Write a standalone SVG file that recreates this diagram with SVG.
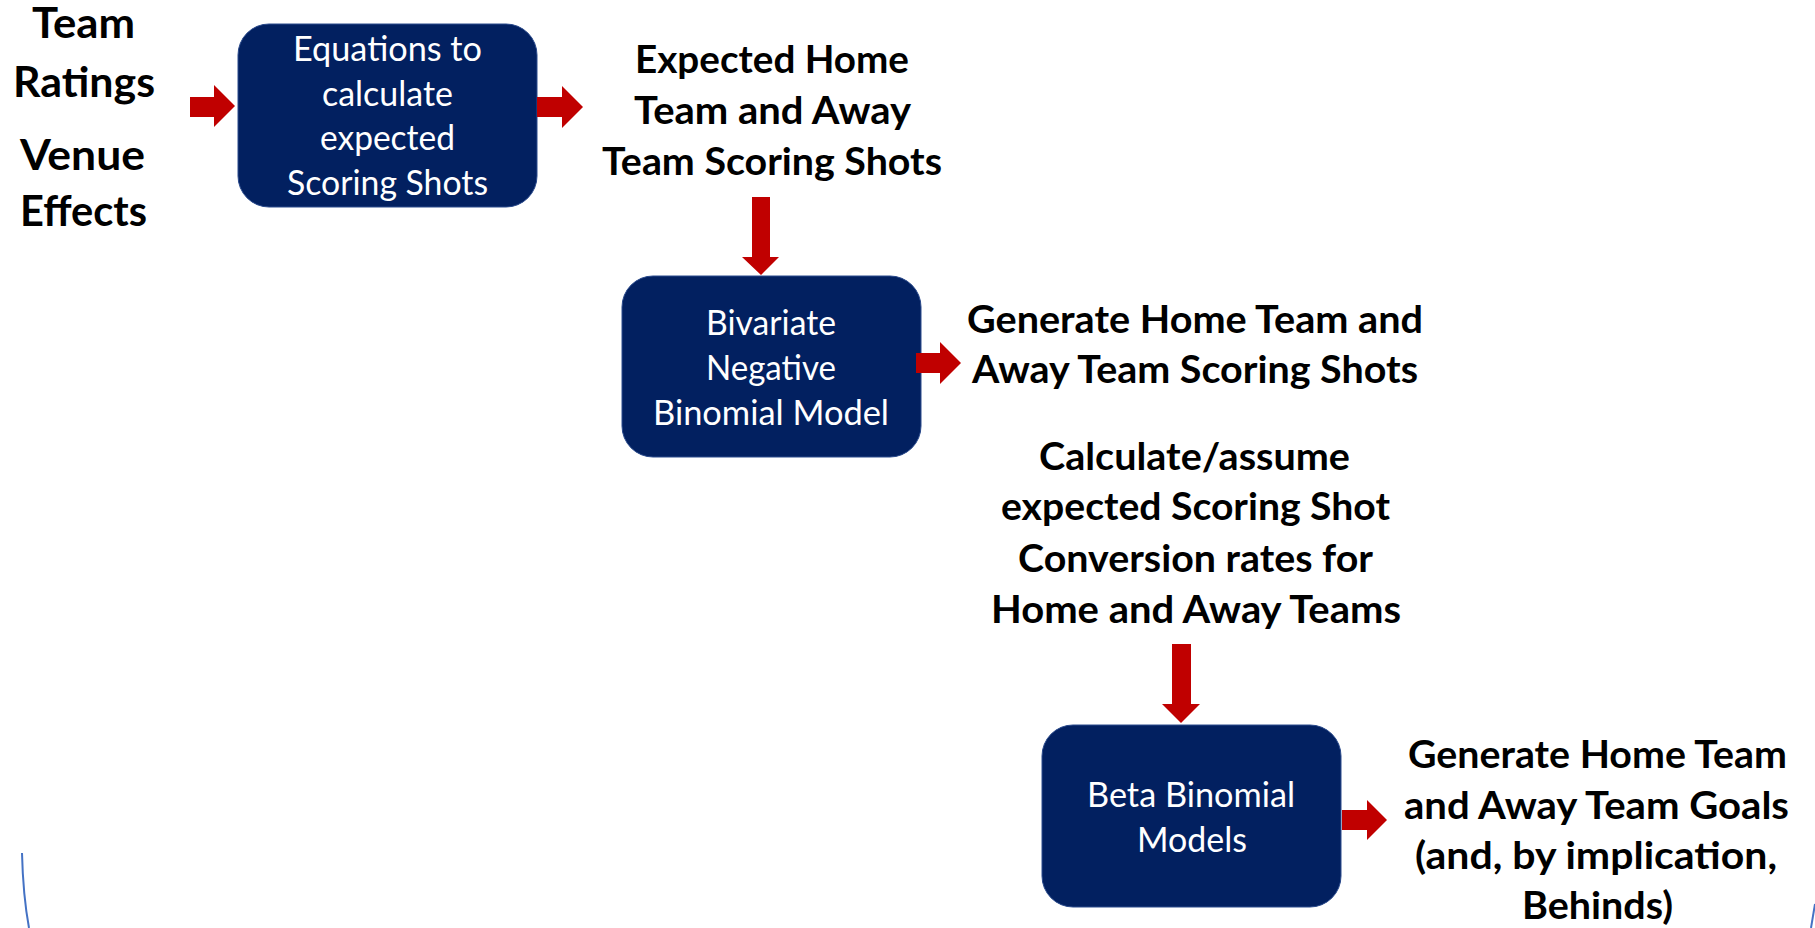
<svg xmlns="http://www.w3.org/2000/svg" width="1815" height="928" viewBox="0 0 1815 928">
  <style>
    .box { fill: #022060; stroke: #2a4a8c; stroke-width: 1; }
    .box-text { font-family: Lato, "Liberation Sans", sans-serif; font-size: 34px; fill: #ffffff; }
    .label { font-family: Lato, "Liberation Sans", sans-serif; font-weight: bold; font-size: 38.5px; fill: #000000; }
    .label-lg { font-family: Lato, "Liberation Sans", sans-serif; font-weight: bold; font-size: 42.5px; fill: #000000; }
    .arrow { fill: #c00000; }
    .edge { fill: none; stroke: #4472c4; stroke-width: 2; }
  </style>

  <rect width="1815" height="928" fill="#ffffff"/>

  <!-- inputs -->
  <g id="inputs">
    <text class="label-lg" x="32" y="38" textLength="103" lengthAdjust="spacingAndGlyphs">Team</text>
    <text class="label-lg" x="13" y="97" textLength="142" lengthAdjust="spacingAndGlyphs">Ratings</text>
    <text class="label-lg" x="20" y="170" textLength="125" lengthAdjust="spacingAndGlyphs">Venue</text>
    <text class="label-lg" x="20" y="226" textLength="127" lengthAdjust="spacingAndGlyphs">Effects</text>
  </g>

  <!-- step 1: equations -->
  <g id="equations">
    <rect class="box" x="238" y="24" width="299" height="183" rx="31" ry="31"/>
    <text class="box-text" x="293" y="61" textLength="189" lengthAdjust="spacingAndGlyphs">Equations to</text>
    <text class="box-text" x="322" y="106" textLength="131" lengthAdjust="spacingAndGlyphs">calculate</text>
    <text class="box-text" x="320" y="150" textLength="135" lengthAdjust="spacingAndGlyphs">expected</text>
    <text class="box-text" x="287" y="195" textLength="201" lengthAdjust="spacingAndGlyphs">Scoring Shots</text>
  </g>

  <g id="expected-shots">
    <text class="label" x="635" y="73" textLength="274" lengthAdjust="spacingAndGlyphs">Expected Home</text>
    <text class="label" x="634" y="124" textLength="277" lengthAdjust="spacingAndGlyphs">Team and Away</text>
    <text class="label" x="602" y="175" textLength="340" lengthAdjust="spacingAndGlyphs">Team Scoring Shots</text>
  </g>

  <!-- step 2: bivariate model -->
  <g id="bivariate">
    <rect class="box" x="622" y="276" width="299" height="181" rx="31" ry="31"/>
    <text class="box-text" x="706" y="335" textLength="130" lengthAdjust="spacingAndGlyphs">Bivariate</text>
    <text class="box-text" x="706" y="380" textLength="130" lengthAdjust="spacingAndGlyphs">Negative</text>
    <text class="box-text" x="653" y="425" textLength="236" lengthAdjust="spacingAndGlyphs">Binomial Model</text>
  </g>

  <g id="generated-shots">
    <text class="label" x="967" y="333" textLength="456" lengthAdjust="spacingAndGlyphs">Generate Home Team and</text>
    <text class="label" x="972" y="383" textLength="446" lengthAdjust="spacingAndGlyphs">Away Team Scoring Shots</text>
  </g>

  <g id="conversion-rates">
    <text class="label" x="1039" y="470" textLength="311" lengthAdjust="spacingAndGlyphs">Calculate/assume</text>
    <text class="label" x="1001" y="520" textLength="389" lengthAdjust="spacingAndGlyphs">expected Scoring Shot</text>
    <text class="label" x="1018" y="572" textLength="355" lengthAdjust="spacingAndGlyphs">Conversion rates for</text>
    <text class="label" x="991" y="623" textLength="410" lengthAdjust="spacingAndGlyphs">Home and Away Teams</text>
  </g>

  <!-- step 3: beta binomial -->
  <g id="beta-binomial">
    <rect class="box" x="1042" y="725" width="299" height="182" rx="31" ry="31"/>
    <text class="box-text" x="1087" y="807" textLength="208" lengthAdjust="spacingAndGlyphs">Beta Binomial</text>
    <text class="box-text" x="1137" y="852" textLength="110" lengthAdjust="spacingAndGlyphs">Models</text>
  </g>

  <g id="goals">
    <text class="label" x="1408" y="768" textLength="379" lengthAdjust="spacingAndGlyphs">Generate Home Team</text>
    <text class="label" x="1404" y="819" textLength="385" lengthAdjust="spacingAndGlyphs">and Away Team Goals</text>
    <text class="label" x="1415" y="869" textLength="362" lengthAdjust="spacingAndGlyphs">(and, by implication,</text>
    <text class="label" x="1522" y="919" textLength="151" lengthAdjust="spacingAndGlyphs">Behinds)</text>
  </g>

  <!-- block arrows -->
  <g id="connectors">
    <path class="arrow" d="M190,97 H214 V85 L235,106 L214,127 V117 H190 Z"/>
    <path class="arrow" d="M537,97 H562 V86 L583,107 L562,128 V117 H537 Z"/>
    <path class="arrow" d="M752,197 H770 V257 H779 L761,275 L742,257 H752 Z"/>
    <path class="arrow" d="M916,353 H940 V342 L961,363 L940,384 V373 H916 Z"/>
    <path class="arrow" d="M1172,644 H1191 V704 H1200 L1181,723 L1162,704 H1172 Z"/>
    <path class="arrow" d="M1342,810 H1367 V800 L1387,820 L1367,840 V830 H1342 Z"/>
  </g>

  <!-- slide frame arcs at the lower corners -->
  <path class="edge" d="M22,853 Q23,895 29,928"/>
  <path class="edge" d="M1815,904 Q1813,916 1811,928"/>
</svg>
